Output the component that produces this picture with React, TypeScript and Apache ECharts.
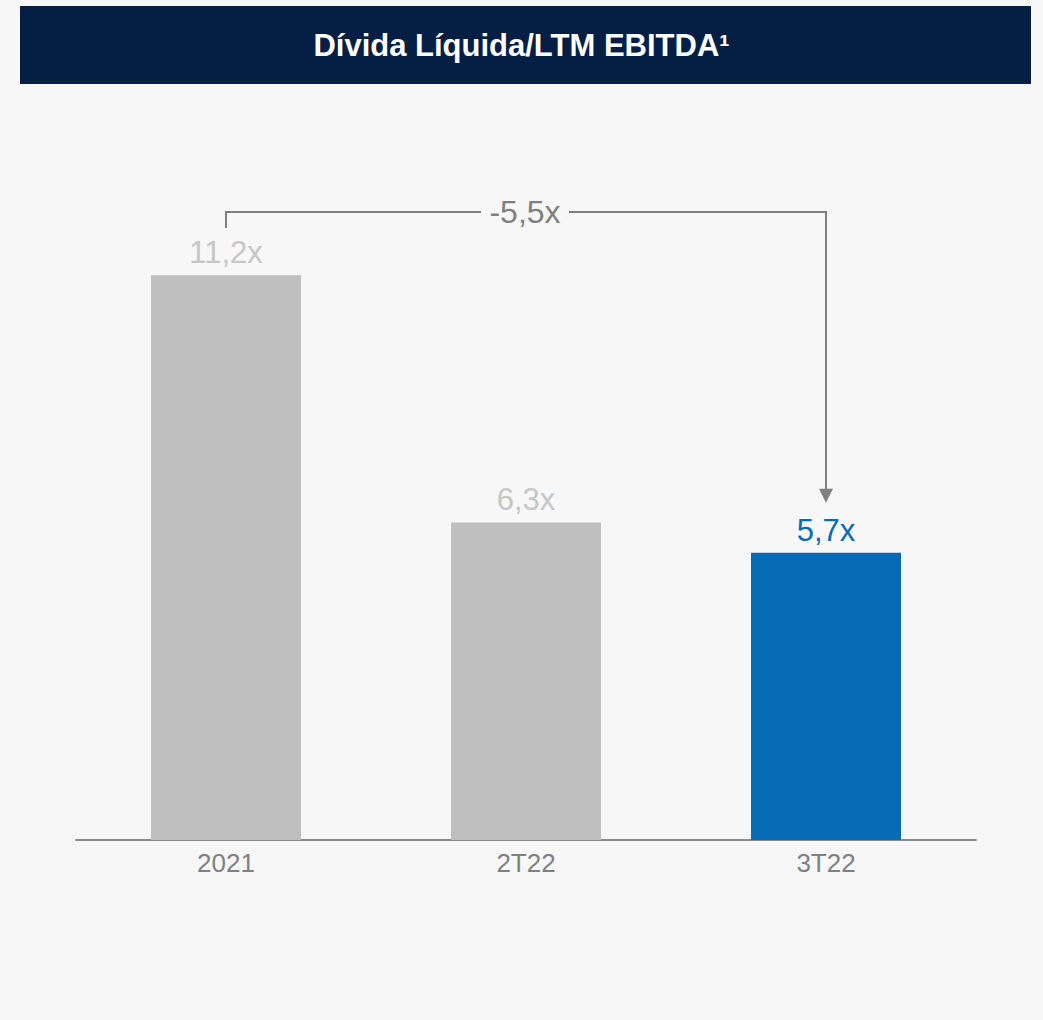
import React, { useEffect, useRef } from "react";
import * as echarts from "echarts";

const categories = ["2021", "2T22", "3T22"];
const values = [11.2, 6.3, 5.7];
const labels = ["11,2x", "6,3x", "5,7x"];
const barColors = ["#bfbfbf", "#bfbfbf", "#066ab4"];
const labelColors = ["#c6c6c6", "#c6c6c6", "#066ab4"];
const changeLabel = "-5,5x";
const titleText = "Dívida Líquida/LTM EBITDA¹";

export default function App() {
  const ref = useRef<HTMLDivElement>(null);
  useEffect(() => {
    const chart = echarts.init(ref.current!, undefined, { renderer: "svg" });
    const font = "'Liberation Sans', Arial, sans-serif";
    chart.setOption({
      animation: false,
      backgroundColor: "#f7f7f7",
      title: {
        text: titleText,
        left: "center",
        top: 25,
        textStyle: { color: "#ffffff", fontSize: 31, fontWeight: "bold", fontFamily: font },
        z: 10,
      },
      grid: { left: 76, right: 67, top: 235, bottom: 180 },
      xAxis: {
        type: "category",
        data: categories,
        axisLine: { lineStyle: { color: "#8c8c8c", width: 2 } },
        axisTick: { show: false },
        axisLabel: { color: "#808080", fontSize: 26, fontFamily: font, margin: 10 },
      },
      yAxis: { type: "value", min: 0, max: 12, show: false, splitLine: { show: false } },
      series: [
        {
          type: "bar",
          barWidth: "50%",
          data: values.map((v, i) => ({
            value: v,
            itemStyle: { color: barColors[i] },
            label: {
              show: true,
              position: "top",
              distance: 7,
              formatter: labels[i],
              color: labelColors[i],
              fontSize: 31,
              fontFamily: font,
            },
          })),
        },
      ],
    });

    const p0 = chart.convertToPixel({ xAxisIndex: 0, yAxisIndex: 0 }, [0, values[0]]) as number[];
    const p2 = chart.convertToPixel({ xAxisIndex: 0, yAxisIndex: 0 }, [2, values[2]]) as number[];
    const topY = 212;
    const leftStartY = 228;
    const tipY = p2[1] - 50;
    const midX = (p0[0] + p2[0]) / 2 - 1;
    const gapHalf = 44;
    const stroke = { stroke: "#808080", lineWidth: 2, fill: "none" };
    chart.setOption({
      graphic: [
        { type: "rect", shape: { x: 20, y: 6, width: 1011, height: 78 }, style: { fill: "#041f43" }, z: 0 },
        {
          type: "polyline",
          shape: { points: [[p0[0], leftStartY], [p0[0], topY], [midX - gapHalf, topY]] },
          style: stroke,
        },
        {
          type: "polyline",
          shape: { points: [[midX + gapHalf, topY], [p2[0], topY], [p2[0], tipY - 12]] },
          style: stroke,
        },
        {
          type: "polygon",
          shape: { points: [[p2[0] - 7, tipY - 14], [p2[0] + 7, tipY - 14], [p2[0], tipY]] },
          style: { fill: "#808080" },
        },
        {
          type: "text",
          x: midX,
          y: topY,
          style: {
            text: changeLabel,
            fill: "#7f7f7f",
            fontSize: 32,
            fontFamily: font,
            align: "center",
            verticalAlign: "middle",
          },
        },
      ],
    });
    return () => chart.dispose();
  }, []);
  return <div ref={ref} style={{ width: 1043, height: 1020, position: "absolute", left: 0, top: 0 }} />;
}
